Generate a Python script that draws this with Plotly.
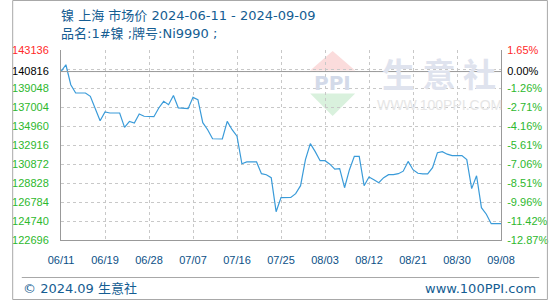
import plotly.graph_objects as go
import pandas as pd

# ---------------- data ----------------
dates = pd.date_range("2024-06-11", "2024-09-09", freq="D").strftime("%Y-%m-%d").tolist()
prices = [
    140816, 141550, 139400, 138510, 138510, 138510, 138150, 136770, 135530, 136470,
    136360, 136360, 136360, 134810, 135460, 135280, 136250, 136010, 135960, 135960,
    136900, 137610, 137250, 138250, 136900, 136820, 136820, 138040, 137790, 135320,
    134560, 133590, 133560, 133560, 135460, 134560, 133860, 130900, 131090, 131090,
    131090, 129830, 129720, 129400, 125740, 127250, 127280, 127280, 127680, 128540,
    131340, 133060, 132200, 131230, 131230, 130850, 130310, 130370, 128320, 130260,
    131690, 131690, 128540, 129470, 129180, 128860, 129400, 129720, 129720, 129830,
    130100, 131150, 130260, 129880, 129800, 129800, 130470, 132090, 132200, 131930,
    131770, 131770, 131770, 131340, 128220, 129610, 126170, 125470, 124450, 124450,
    124450,
]
tick_dates = ["2024-06-11", "2024-06-20", "2024-06-29", "2024-07-08", "2024-07-17",
              "2024-07-26", "2024-08-04", "2024-08-13", "2024-08-22", "2024-08-31",
              "2024-09-09"]
tick_labels = ["06/11", "06/19", "06/28", "07/07", "07/16", "07/25",
               "08/03", "08/12", "08/21", "08/30", "09/08"]
y_min, y_max, y_step = 122696, 143136, 2044
base_price = prices[0]
title1 = "镍 上海 市场价 2024-06-11 - 2024-09-09"
title2 = "品名:1#镍 ;牌号:Ni9990 ;"
footer_left = "© 2024.09 生意社"
footer_right = "www.100PPI.com"

grid_vals = [y_min + i * y_step for i in range(11)]
label_vals = [v for v in grid_vals if v < base_price] + [base_price, y_max]

RED, BLACK, GREEN = "#ff2a2a", "#000000", "#2db82d"
def lab_color(v):
    if v > base_price:
        return RED
    if v == base_price:
        return BLACK
    return GREEN

left_text = [f"<span style='color:{lab_color(v)}'>{v}</span>" for v in label_vals]
right_text = [f"<span style='color:{lab_color(v)}'>{(v / base_price - 1) * 100:.2f}%</span>"
              for v in label_vals]

# ---------------- layout helpers ----------------
W, H = 560, 300
ML, MR, MT, MB = 51, 49, 50, 60
PW, PH = W - ML - MR, H - MT - MB
def px(x):
    return (x - ML) / PW
def py(y):
    return (H - MB - y) / PH

GRID = "#c8c8c8"
AXIS = "#999999"
TXT = "#155d92"
FONT = "DejaVu Sans, Noto Sans CJK SC"
TICKFONT = "Liberation Sans, Noto Sans CJK SC"

fig = go.Figure()
fig.add_trace(go.Scatter(x=dates, y=prices, mode="lines",
                         line=dict(color="#3a9bd9", width=1.2),
                         showlegend=False, hoverinfo="x+y"))
fig.add_trace(go.Scatter(x=dates, y=prices, mode="lines", yaxis="y2",
                         line=dict(width=0), opacity=0,
                         showlegend=False, hoverinfo="skip"))

shapes = [
    # base price line
    dict(type="line", xref="paper", yref="y", x0=0, x1=1, y0=base_price, y1=base_price,
         line=dict(color=AXIS, width=1), layer="above"),
    # outer frame
    dict(type="rect", xref="paper", yref="paper", x0=px(0.5), x1=px(559.5),
         y0=py(299.5), y1=py(0.5), line=dict(color="#a8a8a8", width=1)),
    # footer separator
    dict(type="line", xref="paper", yref="paper", x0=px(10), x1=px(551),
         y0=py(277.5), y1=py(277.5), line=dict(color="#a8a8a8", width=1)),
    # watermark logo triangles
    dict(type="path", xref="paper", yref="paper", layer="below",
         path=f"M {px(335)} {py(51)} L {px(358.5)} {py(70.5)} L {px(311.5)} {py(70.5)} Z",
         fillcolor="#fbdcdc", line=dict(width=0)),
    dict(type="path", xref="paper", yref="paper", layer="below",
         path=f"M {px(311.5)} {py(93.5)} L {px(358.5)} {py(93.5)} L {px(335)} {py(116)} Z",
         fillcolor="#d9f1dd", line=dict(width=0)),
]

annotations = [
    dict(text=title1, xref="paper", yref="paper", x=px(49), y=py(15), xanchor="left",
         yanchor="middle", showarrow=False, font=dict(family=FONT, size=13, color=TXT)),
    dict(text=title2, xref="paper", yref="paper", x=px(49), y=py(33.5), xanchor="left",
         yanchor="middle", showarrow=False, font=dict(family=FONT, size=13, color=TXT)),
    dict(text=footer_left, xref="paper", yref="paper", x=px(9), y=py(288), xanchor="left",
         yanchor="middle", showarrow=False, font=dict(family=FONT, size=13, color=TXT)),
    dict(text=footer_right, xref="paper", yref="paper", x=px(550), y=py(288), xanchor="right",
         yanchor="middle", showarrow=False, font=dict(family=FONT, size=13, color=TXT)),
    # watermark text
    dict(text="PPI", xref="paper", yref="paper", x=px(335), y=py(83), xanchor="center",
         yanchor="middle", showarrow=False,
         font=dict(family="DejaVu Sans", size=20, color="#d3dae9", weight="bold")),
    dict(text="生 意 社", xref="paper", yref="paper", x=px(446), y=py(72.5), xanchor="center",
         yanchor="middle", showarrow=False,
         font=dict(family="Noto Sans CJK SC", size=33, color="#dfe3ee", weight="bold")),
    dict(text="WWW.100PPI.COM", xref="paper", yref="paper", x=px(446.5), y=py(105),
         xanchor="center", yanchor="middle", showarrow=False,
         font=dict(family="Liberation Sans", size=14, color="#e6e6e6")),
]

fig.update_layout(
    width=W, height=H,
    margin=dict(l=ML, r=MR, t=MT, b=MB),
    paper_bgcolor="white", plot_bgcolor="white",
    showlegend=False,
    shapes=shapes, annotations=annotations,
    xaxis=dict(range=[dates[0], dates[-1]], tickmode="array", tickvals=tick_dates,
               ticktext=tick_labels, showgrid=True, gridcolor=GRID, griddash="3px,3px",
               gridwidth=1, showline=True, linecolor=AXIS, linewidth=1, zeroline=False,
               ticks="outside", ticklen=10, tickcolor="rgba(0,0,0,0)",
               tickfont=dict(family=TICKFONT, size=11, color="#0b4f86")),
    yaxis=dict(range=[y_min, y_max], tickmode="array", tickvals=label_vals,
               ticktext=left_text, showgrid=True, gridcolor=GRID, griddash="3px,3px",
               minor=dict(tickmode="array", tickvals=grid_vals, showgrid=True,
                          gridcolor=GRID, griddash="3px,3px", ticks=""),
               showline=True, linecolor=AXIS, linewidth=1, zeroline=False,
               ticks="outside", ticklen=9, tickcolor="rgba(0,0,0,0)",
               tickfont=dict(family=TICKFONT, size=11)),
    yaxis2=dict(range=[y_min, y_max], overlaying="y", side="right", tickmode="array",
                tickvals=label_vals, ticktext=right_text, showgrid=False,
                showline=True, linecolor=AXIS, linewidth=1, zeroline=False,
                ticks="outside", ticklen=3, tickcolor="rgba(0,0,0,0)",
                tickfont=dict(family=TICKFONT, size=11)),
)

fig.write_html("out.html")
